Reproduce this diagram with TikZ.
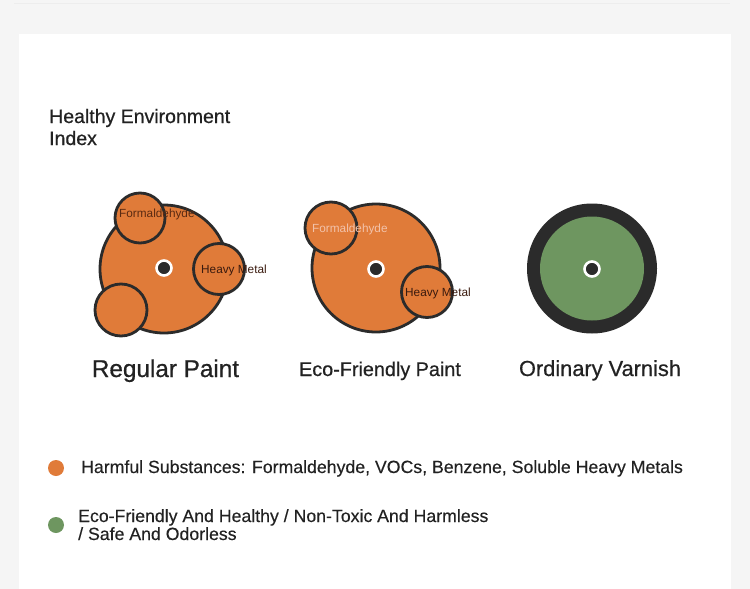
\documentclass[tikz,border=0pt]{standalone}
\usepackage{fontspec}
\setmainfont{Liberation Sans}
\newfontfamily\medfont[FakeBold=0.6]{Liberation Sans}
\newfontfamily\semifont[FakeBold=0.3]{Liberation Sans}
\definecolor{bggray}{HTML}{F5F5F5}
\definecolor{paint}{HTML}{E07B39}
\definecolor{rim}{HTML}{2B2B2B}
\definecolor{varnish}{HTML}{6E9660}
\definecolor{txt}{HTML}{222222}
\definecolor{brownA}{HTML}{5A2A12}
\definecolor{brownB}{HTML}{3A1A0E}
\definecolor{pinkish}{HTML}{F2C2AA}
\tikzset{
  bigdisc/.style={circle, fill=paint, draw=rim, line width=2.8pt, minimum size=#1, inner sep=0pt},
  smalldisc/.style={circle, fill=paint, draw=rim, line width=2.8pt, minimum size=#1, inner sep=0pt},
  hub/.style={circle, fill=rim, draw=white, line width=2.6pt, minimum size=15pt, inner sep=0pt},
  tinylabel/.style={font=\fontsize{11.8}{13}\selectfont, inner sep=0pt, anchor=west},
  caption/.style={text=txt, inner sep=0pt, anchor=base},
  legtext/.style={text=txt, inner sep=0pt, anchor=base west, font=\semifont\fontsize{17.7}{19}\selectfont},
  legdot/.style={circle, inner sep=0pt, minimum size=16pt}
}
\begin{document}
\begin{tikzpicture}[x=1pt,y=-1pt]
\useasboundingbox (0,0) rectangle (750,589);
\fill[bggray] (0,0) rectangle (750,589);
\fill[white] (19,34) rectangle (731,589);
\draw[draw=white!93!black, line width=0.8pt] (14,3) -- (730,3);

% title
\node[caption, anchor=base west, font=\medfont\fontsize{19.5}{22}\selectfont] (title1) at (49,123) {Healthy Environment};
\node[caption, anchor=base west, font=\medfont\fontsize{19.5}{22}\selectfont] (title2) at (49,145) {Index};

% Regular Paint
\node[bigdisc=128pt] (rp) at (164,269) {};
\node[smalldisc=50pt] (rpf) at (140,218) {};
\node[smalldisc=51pt] (rph) at (219,269) {};
\node[smalldisc=52pt] (rpb) at (121,310) {};
\node[hub] (rpc) at (164,268) {};
\node[tinylabel, text=brownA] (rpft) at (119,214) {Formaldehyde};
\node[tinylabel, text=brownB] (rpht) at (201,270) {Heavy Metal};
\node[caption, font=\medfont\fontsize{24.3}{26}\selectfont] (rpl) at (165.5,377) {Regular Paint};

% Eco-Friendly Paint
\node[bigdisc=128pt] (ep) at (376,268) {};
\node[smalldisc=52pt] (epf) at (331,228) {};
\node[smalldisc=51pt] (eph) at (427,292) {};
\node[hub] (epc) at (376,269) {};
\node[tinylabel, text=pinkish] (epft) at (312,229) {Formaldehyde};
\node[tinylabel, text=brownB] (epht) at (405,293) {Heavy Metal};
\node[caption, font=\medfont\fontsize{19.8}{22}\selectfont] (epl) at (380,376) {Eco-Friendly Paint};

% Ordinary Varnish
\node[circle, fill=rim, minimum size=130pt, inner sep=0pt] (ov) at (592,268.5) {};
\node[circle, fill=varnish, minimum size=104pt, inner sep=0pt] (ovi) at (592,268.5) {};
\node[hub] (ovc) at (592,269) {};
\node[caption, font=\medfont\fontsize{21.8}{24}\selectfont] (ovl) at (600,376) {Ordinary Varnish};

% legend
\node[legdot, fill=paint] (ld1) at (56,468) {};
\node[legtext] (lt1) at (81,473) {Harmful Substances: Formaldehyde, VOCs, Benzene, Soluble Heavy Metals};
\node[legdot, fill=varnish] (ld2) at (56,525) {};
\node[legtext] (lt2) at (78,522) {Eco-Friendly And Healthy / Non-Toxic And Harmless};
\node[legtext] (lt3) at (78,540) {/ Safe And Odorless};
\end{tikzpicture}
\end{document}
